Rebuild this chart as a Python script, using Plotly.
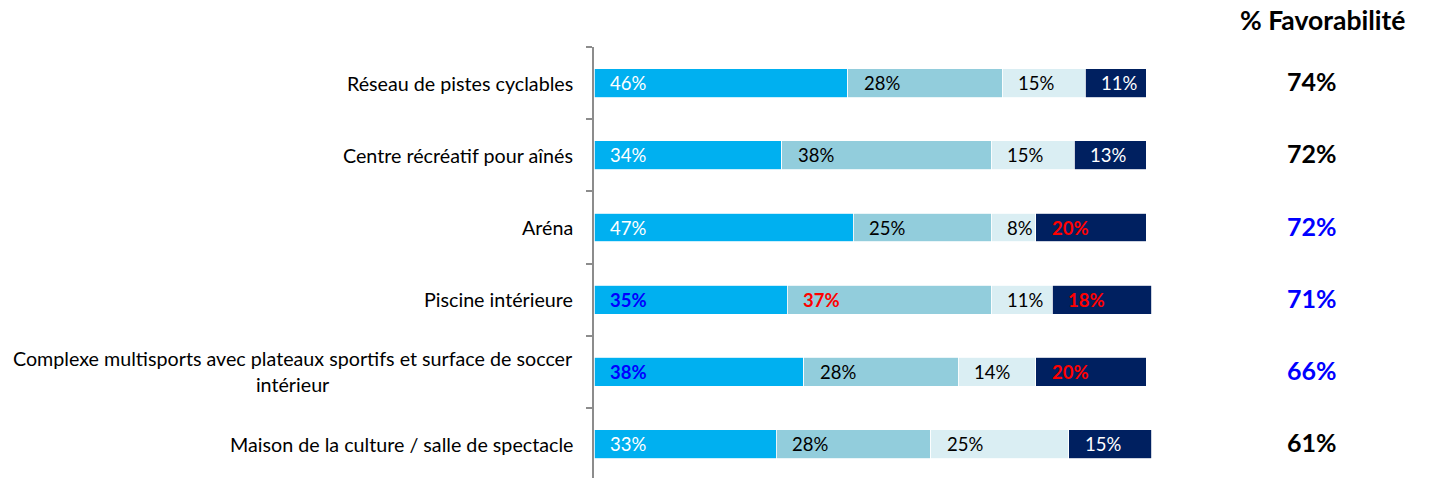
import plotly.graph_objects as go

categories = [
    "Réseau de pistes cyclables",
    "Centre récréatif pour aînés",
    "Aréna",
    "Piscine intérieure",
    "Complexe multisports avec plateaux sportifs et surface de soccer<br>intérieur",
    "Maison de la culture / salle de spectacle",
]
s1 = [46, 34, 47, 35, 38, 33]
s2 = [28, 38, 25, 37, 28, 28]
s3 = [15, 15, 8, 11, 14, 25]
s4 = [11, 13, 20, 18, 20, 15]
favorability = [74, 72, 72, 71, 66, 61]

# label styles: (color, bold)
s1_style = [("white", False), ("white", False), ("white", False), ("#0000FF", True), ("#0000FF", True), ("white", False)]
s2_style = [("black", False), ("black", False), ("black", False), ("#FF0000", True), ("black", False), ("black", False)]
s3_style = [("black", False)] * 6
s4_style = [("white", False), ("white", False), ("#FF0000", True), ("#FF0000", True), ("#FF0000", True), ("white", False)]
fav_colors = ["black", "black", "#0000FF", "#0000FF", "#0000FF", "black"]

series = [s1, s2, s3, s4]
styles = [s1_style, s2_style, s3_style, s4_style]
colors = ["#00B0F0", "#92CDDC", "#DAEEF3", "#002060"]

FONT = "Lato"
W, H = 1430, 478
ml, mr, mt, mb = 594, 0, 47, 0
pw, ph = W - ml - mr, H - mt - mb

fig = go.Figure()
for vals, col in zip(series, colors):
    fig.add_trace(go.Bar(
        y=categories, x=vals, orientation="h",
        marker=dict(color=col, line=dict(color="white", width=0.8)),
        width=0.4, hoverinfo="skip", showlegend=False,
    ))

annotations = []
for i, cat in enumerate(categories):
    base = 0
    for vals, sty in zip(series, styles):
        v = vals[i]
        col, bold = sty[i]
        txt = f"{v}%"
        if bold:
            txt = f"<b>{txt}</b>"
        annotations.append(dict(
            x=base, y=cat, xref="x", yref="y", text=txt, showarrow=False,
            xanchor="left", yanchor="middle", xshift=14,
            font=dict(family=FONT, size=18.5, color=col),
        ))
        base += v
    annotations.append(dict(
        x=0, y=cat, xref="paper", yref="y", text=cat, showarrow=False,
        xanchor="right", yanchor="middle", align="center", xshift=-19,
        font=dict(family=FONT, size=19.7, color="black"),
    ))
    annotations.append(dict(
        x=(1312 - ml) / pw, y=cat, xref="paper", yref="y", text=f"<b>{favorability[i]}%</b>",
        showarrow=False, xanchor="center", yanchor="middle", yshift=2,
        font=dict(family=FONT, size=25, color=fav_colors[i]),
    ))

annotations.append(dict(
    x=(1322 - ml) / pw, y=1 + (mt - 20) / ph, xref="paper", yref="paper",
    text="<b>% Favorabilité</b>",
    showarrow=False, xanchor="center", yanchor="middle",
    font=dict(family=FONT, size=26.5, color="black"),
))

fig.update_layout(
    width=W, height=H,
    margin=dict(l=ml, r=mr, t=mt, b=mb, autoexpand=False),
    barmode="stack",
    plot_bgcolor="white", paper_bgcolor="white",
    xaxis=dict(range=[0, pw / 5.52], visible=False),
    yaxis=dict(
        categoryorder="array", categoryarray=categories,
        range=[5.5 - (6 - ph / 72.2), -0.5],
        showticklabels=False, showgrid=False, zeroline=False,
        showline=True, linecolor="#8C8C8C", linewidth=1.5,
        ticks="outside", tickson="boundaries", ticklen=6, tickcolor="#8C8C8C", tickwidth=1.5,
    ),
    annotations=annotations,
)

fig.write_html(
    "out.html",
    config={"displayModeBar": False},
    post_script="document.body.style.margin='0px';document.body.style.overflow='hidden';",
)
